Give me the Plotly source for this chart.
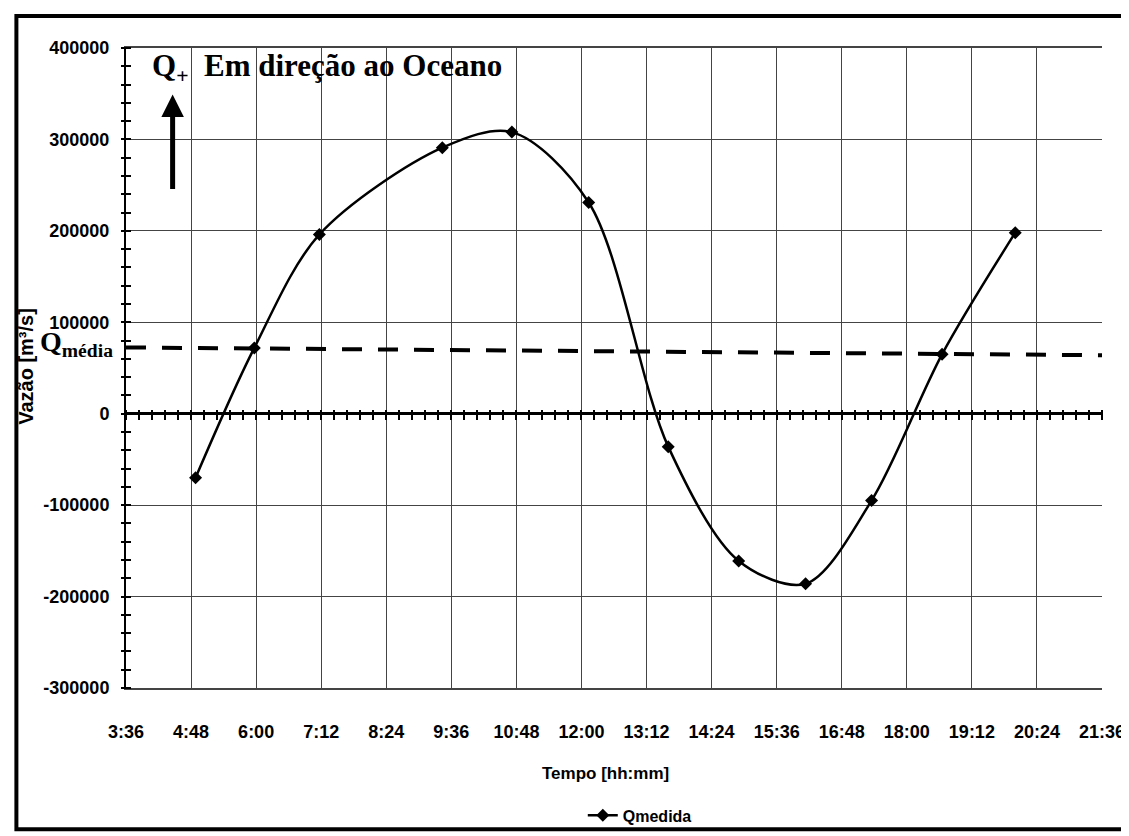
import plotly.graph_objects as go

# ---- data ----
tempo = ["4:53", "5:58", "7:10", "9:26", "10:43", "12:08", "13:36", "14:54", "16:08", "17:21", "18:39", "20:00"]
qmedida = [-70000, 72000, 196000, 291000, 308000, 231000, -36000, -161000, -186000, -95000, 65000, 198000]
tempo_media = ["3:36", "21:36"]
qmedia = [72500, 64000]
x_ticks = ["3:36", "4:48", "6:00", "7:12", "8:24", "9:36", "10:48", "12:00", "13:12",
           "14:24", "15:36", "16:48", "18:00", "19:12", "20:24", "21:36"]
y_tickvals = [-300000, -200000, -100000, 0, 100000, 200000, 300000, 400000]
y_ticktext = ["-300000", "-200000", "-100000", "0", "100000", "200000", "300000", "400000"]


def ts(hm):
    h, m = hm.split(":")
    return f"2000-01-01 {int(h):02d}:{int(m):02d}:00"


W, H = 1129, 836
L, R, T, B = 118, 27, 40, 148
PW, PH = W - L - R, H - T - B


def px(xp):
    return (xp - L) / PW


def py(yp):
    return (H - B - yp) / PH


SANS = "Liberation Sans, Arial, sans-serif"
SERIF = "Liberation Serif, Times New Roman, serif"

fig = go.Figure()
fig.add_trace(go.Scatter(
    x=[ts(t) for t in tempo], y=qmedida, name="Qmedida", mode="lines+markers",
    line=dict(color="black", width=2.5, shape="spline", smoothing=0.9),
    marker=dict(symbol="diamond", size=10, color="black"),
))
fig.add_trace(go.Scatter(
    x=[ts(t) for t in tempo_media], y=qmedia, mode="lines", showlegend=False,
    line=dict(color="black", width=4, dash="20px,16px"), xaxis="x2", yaxis="y2",
))

ms72 = 72 * 60 * 1000
xr = [ts(x_ticks[0]), ts(x_ticks[-1])]
yr = [-300000, 400000]
tickfont = dict(family=SANS, size=18, color="black", weight="bold")

fig.update_layout(
    width=W, height=H,
    margin=dict(l=L, r=R, t=T, b=B),
    paper_bgcolor="white", plot_bgcolor="white",
    showlegend=True,
    legend=dict(orientation="h", x=px(636), xanchor="center", y=py(817), yanchor="middle",
                font=dict(family=SANS, size=16, color="black", weight="bold"),
                bgcolor="rgba(0,0,0,0)"),
    xaxis=dict(type="date", range=xr, tickvals=[ts(t) for t in x_ticks], ticktext=x_ticks,
               showgrid=True, gridcolor="#444", gridwidth=1,
               showline=True, linecolor="#444", linewidth=1.5, mirror=True,
               ticks="", ticklabelstandoff=27, tickfont=tickfont, zeroline=False),
    yaxis=dict(range=yr, tickvals=y_tickvals, ticktext=y_ticktext,
               showgrid=True, gridcolor="#444", gridwidth=1,
               showline=True, linecolor="black", linewidth=2, mirror=False,
               ticks="", tickfont=tickfont, ticklabelstandoff=11,
               zeroline=True, zerolinecolor="black", zerolinewidth=2.5),
    yaxis2=dict(range=yr, overlaying="y", anchor="free", position=5 / PW, side="left",
                showgrid=False, ticks="outside", ticklen=10, tickwidth=2, tickcolor="black",
                dtick=100000, tick0=0,
                minor=dict(dtick=20000, ticks="outside", ticklen=10, tickwidth=2, tickcolor="black"),
                showticklabels=False, showline=False, zeroline=False),
    xaxis2=dict(type="date", range=xr, overlaying="x", anchor="free", position=3 / 7 + 5 / PH,
                side="bottom", tick0=ts(x_ticks[0]), dtick=ms72 / 5, ticks="outside", ticklen=10,
                tickwidth=2, tickcolor="black", showticklabels=False, showgrid=False,
                showline=False, zeroline=False),
)

fig.add_annotation(text="Vazão [m³/s]", xref="paper", yref="paper", x=px(17), y=py(362),
                   textangle=-90, showarrow=False, xanchor="center", yanchor="middle",
                   font=dict(family=SANS, size=20, color="black", weight="bold"))
fig.add_annotation(text="Tempo [hh:mm]", xref="paper", yref="paper", x=px(601), y=py(775),
                   showarrow=False, xanchor="center", yanchor="middle",
                   font=dict(family=SANS, size=17, color="black", weight="bold"))
fig.add_annotation(text="Q<sub>+</sub>  Em direção ao Oceano", xref="paper", yref="paper",
                   x=px(142), y=py(60), showarrow=False, xanchor="left", yanchor="middle",
                   font=dict(family=SERIF, size=31, color="black", weight="bold"))
fig.add_annotation(text="", xref="paper", yref="paper", x=px(165), y=py(87),
                   ax=0, ay=96, showarrow=True, arrowhead=2, arrowsize=0.9, arrowwidth=5,
                   arrowcolor="black")
fig.add_annotation(text="Q<sub>média</sub>", xref="paper", yref="paper",
                   x=px(29), y=py(339), showarrow=False, xanchor="left", yanchor="middle",
                   font=dict(family=SERIF, size=28, color="black", weight="bold"))

fig.add_shape(type="rect", xref="paper", yref="paper",
              x0=px(7.5), x1=px(1125), y0=py(831), y1=py(7.5),
              line=dict(color="black", width=4), fillcolor="rgba(0,0,0,0)", layer="above")

fig.write_html("out.html")
